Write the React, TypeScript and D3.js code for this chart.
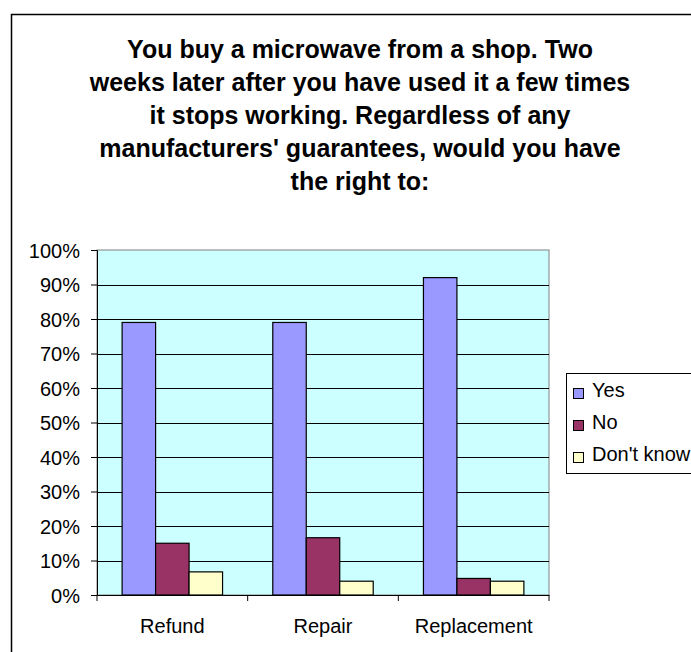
import React, { useEffect, useRef } from 'react';
import * as d3 from 'd3';

const categories = ['Refund', 'Repair', 'Replacement'];
const seriesNames = ['Yes', 'No', "Don't know"];
const yesValues = [79, 79, 92];
const noValues = [15, 16.6, 4.8];
const dontKnowValues = [6.7, 4, 4];
const yTicks = [0, 10, 20, 30, 40, 50, 60, 70, 80, 90, 100];
const titleLines = [
  'You buy a microwave from a shop. Two',
  'weeks later after you have used it a few times',
  'it stops working. Regardless of any',
  "manufacturers' guarantees, would you have",
  'the right to:',
];
const colors = ['#9999FF', '#993366', '#FFFFCC'];

const App: React.FC = () => {
  const ref = useRef<SVGSVGElement | null>(null);

  useEffect(() => {
    if (!ref.current) return;
    const svg = d3.select(ref.current);
    svg.selectAll('*').remove();

    const width = 691;
    const height = 652;
    const plot = { left: 97, top: 250, right: 549, bottom: 595 };
    const font = 'Arial, "Liberation Sans", sans-serif';

    // outer chart border
    svg.append('rect')
      .attr('x', 11.5).attr('y', 14.5)
      .attr('width', width + 20).attr('height', height + 20)
      .attr('fill', 'white').attr('stroke', '#000').attr('stroke-width', 1.5);

    // title
    const title = svg.append('text')
      .attr('font-family', font).attr('font-weight', 'bold')
      .attr('font-size', 25).attr('text-anchor', 'middle');
    titleLines.forEach((line, i) => {
      title.append('tspan').attr('x', 360).attr('y', 58 + i * 33).text(line);
    });

    const x0 = d3.scaleBand().domain(categories).range([plot.left, plot.right]).paddingInner(0).paddingOuter(0);
    const x1 = d3.scaleBand().domain(seriesNames).range([0, x0.bandwidth()]).paddingInner(0).paddingOuter(0.75);
    const y = d3.scaleLinear().domain([0, 100]).range([plot.bottom, plot.top]);

    svg.append('rect')
      .attr('x', plot.left).attr('y', plot.top)
      .attr('width', plot.right - plot.left).attr('height', plot.bottom - plot.top)
      .attr('fill', '#CCFFFF').attr('stroke', '#808080').attr('stroke-width', 1);

    // gridlines
    svg.append('g').selectAll('line')
      .data(yTicks.filter(t => t > 0 && t < 100))
      .join('line')
      .attr('x1', plot.left).attr('x2', plot.right)
      .attr('y1', d => Math.round(y(d)) + 0.5).attr('y2', d => Math.round(y(d)) + 0.5)
      .attr('stroke', '#000').attr('stroke-width', 1);

    const series = [yesValues, noValues, dontKnowValues];
    const rows = categories.map((c, ci) => ({ c, vals: series.map((s, si) => ({ name: seriesNames[si], v: s[ci], color: colors[si] })) }));

    const groups = svg.append('g').selectAll('g').data(rows).join('g')
      .attr('transform', d => `translate(${x0(d.c)},0)`);
    groups.selectAll('rect').data(d => d.vals).join('rect')
      .attr('x', d => x1(d.name) as number)
      .attr('y', d => y(d.v))
      .attr('width', x1.bandwidth())
      .attr('height', d => y(0) - y(d.v))
      .attr('fill', d => d.color)
      .attr('stroke', '#000').attr('stroke-width', 1.2);

    // y axis
    const yAxis = svg.append('g')
      .attr('transform', `translate(${plot.left},0)`)
      .call(d3.axisLeft(y).tickValues(yTicks).tickSize(6).tickPadding(11).tickFormat(d => `${d}%`));
    yAxis.select('.domain').attr('stroke', '#000');
    yAxis.selectAll('text').attr('font-family', font).attr('font-size', 20).attr('fill', '#000').attr('dy', '0.35em');

    // x axis
    const xAxis = svg.append('g')
      .attr('transform', `translate(0,${plot.bottom})`)
      .call(d3.axisBottom(x0).tickSize(0).tickPadding(0));
    xAxis.select('.domain').attr('stroke', '#000').attr('stroke-width', 1.2);
    xAxis.selectAll('.tick text').attr('font-family', font).attr('font-size', 20).attr('fill', '#000').attr('y', 38).attr('dy', 0);
    xAxis.append('g').selectAll('line')
      .data(d3.range(categories.length + 1))
      .join('line')
      .attr('x1', i => plot.left + i * x0.step()).attr('x2', i => plot.left + i * x0.step())
      .attr('y1', 0).attr('y2', 6).attr('stroke', '#000');

    // legend
    const legend = svg.append('g').attr('transform', 'translate(566,373)');
    legend.append('rect')
      .attr('x', 0.5).attr('y', 0.5).attr('width', 200).attr('height', 100)
      .attr('fill', 'white').attr('stroke', '#000');
    seriesNames.forEach((name, i) => {
      legend.append('rect')
        .attr('x', 7.5).attr('y', 15.5 + i * 32).attr('width', 10).attr('height', 10)
        .attr('fill', colors[i]).attr('stroke', '#000');
      legend.append('text')
        .attr('x', 26).attr('y', 24 + i * 32)
        .attr('font-family', font).attr('font-size', 20).text(name);
    });
  }, []);

  return (
    <svg ref={ref} width={691} height={652}
      style={{ position: 'absolute', left: 0, top: 0, background: 'white' }} />
  );
};

export default App;
